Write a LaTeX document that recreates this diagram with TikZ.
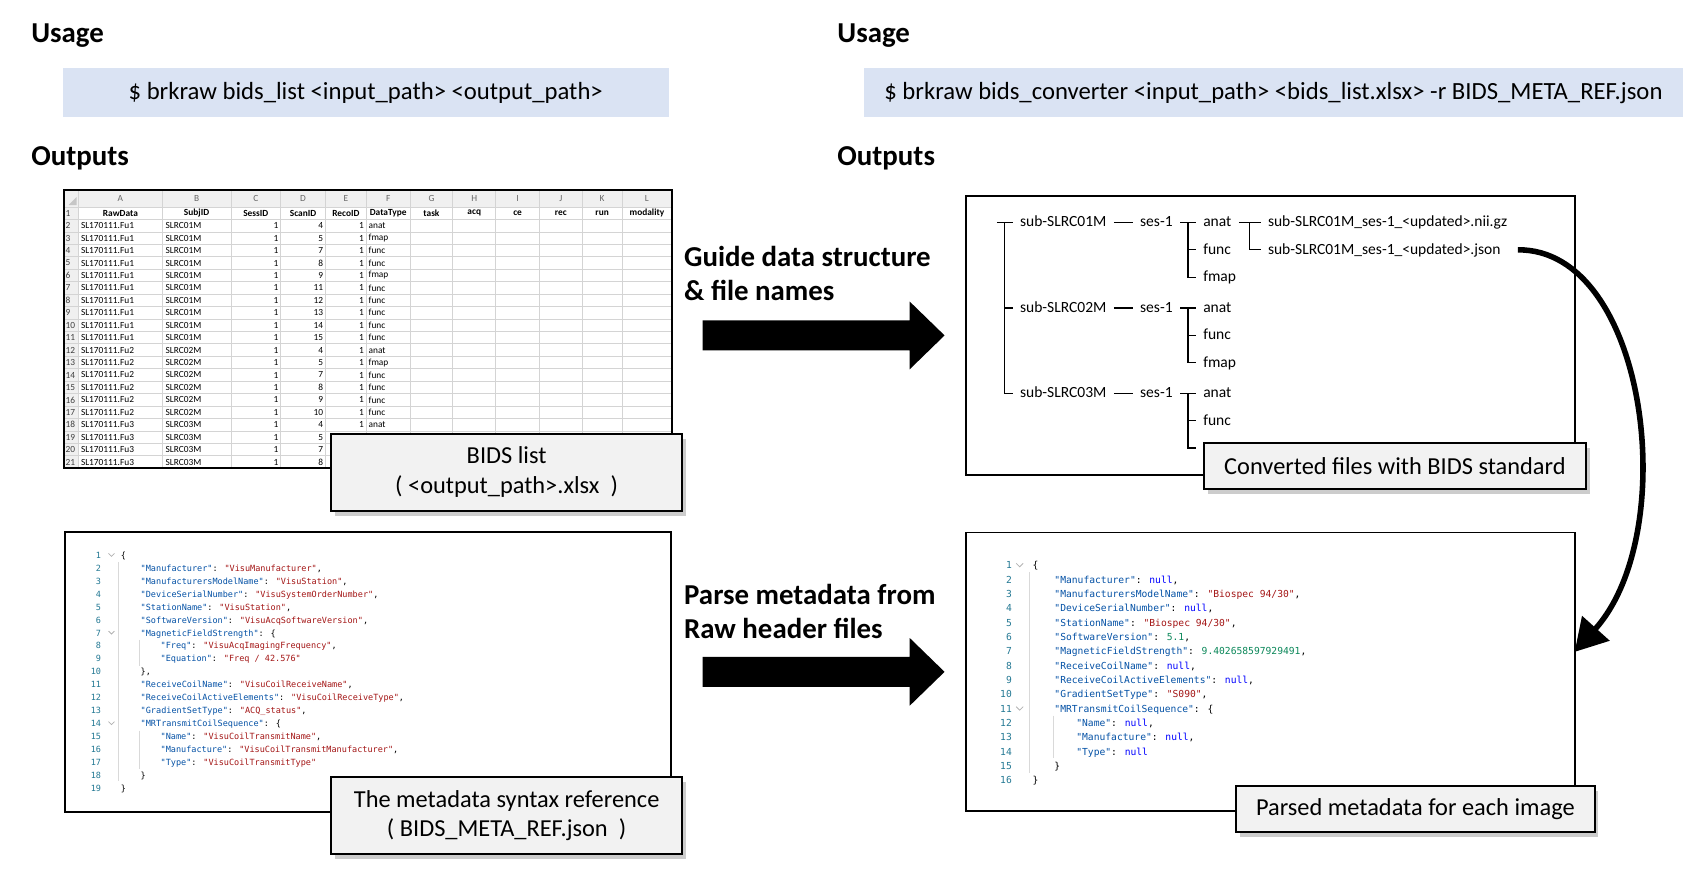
\documentclass[tikz,border=0pt]{standalone}
\usepackage{fontspec}
\setmainfont{Carlito}
\newfontfamily\codefont{DejaVu Sans Mono}
\usetikzlibrary{positioning, arrows.meta, shadows, calc}

\definecolor{usagebg}{HTML}{DAE3F3}
\definecolor{notebg}{HTML}{F2F2F2}
\definecolor{keycol}{HTML}{0451A5}
\definecolor{strcol}{HTML}{A31515}
\definecolor{nullcol}{HTML}{0000FF}
\definecolor{numcol}{HTML}{098658}
\definecolor{linecol}{HTML}{237893}
\definecolor{gridcol}{HTML}{D4D4D4}
\definecolor{cellhead}{HTML}{F0F0F0}

\newcommand{\jkey}[1]{\textcolor{keycol}{#1}}
\newcommand{\jstr}[1]{\textcolor{strcol}{#1}}
\newcommand{\jnull}[1]{\textcolor{nullcol}{#1}}
\newcommand{\jnum}[1]{\textcolor{numcol}{#1}}

\begin{document}
\begin{tikzpicture}[x=0.5pt, y=-0.5pt,
    heading/.style={font=\fontsize{14.5}{17}\selectfont\bfseries, inner sep=0pt, anchor=base west},
    usagebar/.style={fill=usagebg, inner sep=0pt, minimum height=25pt, font=\fontsize{12.4}{15}\selectfont},
    panel/.style={draw, line width=1pt},
    notebox/.style={draw, line width=1pt, fill=notebg, inner sep=0pt, align=center,
      font=\fontsize{12.25}{15}\selectfont,
      drop shadow={shadow xshift=2pt, shadow yshift=-2.5pt, fill=black!40, opacity=.5}},
    cell/.style={font=\fontsize{4.7}{5}\selectfont, inner sep=0pt},
    cellbold/.style={cell, font=\fontsize{4.7}{5}\selectfont\bfseries},
    grid line/.style={gridcol, line width=.4pt},
    treenode/.style={font=\fontsize{7.8}{9}\selectfont, inner sep=3.5pt, text height=6pt, text depth=1.5pt, anchor=west},
    branch/.style={line width=.65pt},
    lineno/.style={text=linecol, inner sep=0pt, anchor=base east},
    codeline/.style={inner sep=0pt, anchor=base west},
    guide/.style={gray!30, line width=.4pt},
    fold/.style={gray!60, line width=.4pt},
  ]
  \useasboundingbox (0,0) rectangle (1710,889);

  % usage and outputs
  \node[heading] (use1) at (31,43) {Usage};
  \node[heading] (use2) at (841,43) {Usage};
  \node[usagebar, minimum width=304.5pt] (cmd1) at (367.5,93) {\$ brkraw bids\_list <input\_path> <output\_path>};
  \node[usagebar, minimum width=411.5pt] (cmd2) at (1279.5,93) {\$ brkraw bids\_converter <input\_path> <bids\_list.xlsx> -r BIDS\_META\_REF.json};
  \node[heading] (out1) at (31,166) {Outputs};
  \node[heading] (out2) at (841,166) {Outputs};

  % spreadsheet
  \fill[cellhead] (64,191) rectangle (675,208);
  \fill[cellhead] (64,208) rectangle (79,470.5);
  \fill[gray!45] (77,198) -- (77,206) -- (69,206) -- cycle;
  \foreach \x in {79,163,232,282,327,368,412,455,498,542,585,625}
    \draw[grid line] (\x,191) -- (\x,470.5);
  \foreach \r in {0,...,20}
    \draw[grid line] (64,{208+\r*12.5}) -- (675,{208+\r*12.5});
  \draw[line width=1pt] (64,191) rectangle (675,470.5);
  \foreach \l/\h/\x in {A/RawData/121, B/SubjID/197.5, C/SessID/257, D/ScanID/304.5,
      E/RecoID/347.5, F/DataType/390, G/task/433.5, H/acq/476.5, I/ce/520,
      J/rec/563.5, K/run/605, L/modality/650} {
    \node[cell, text=black!60] (col\l) at (\x,199.5) {\l};
    \node[cellbold] (head\l) at (\x,214.25) {\h};
  }
  \foreach \r in {1,...,21}
    \node[cell, anchor=west, text=black!75] (n\r) at (65.5,{208+(\r-0.5)*12.5}) {\r};
  \foreach \r/\fu/\sj/\sc in {2/1/1/4, 3/1/1/5, 4/1/1/7, 5/1/1/8, 6/1/1/9, 7/1/1/11,
      8/1/1/12, 9/1/1/13, 10/1/1/14, 11/1/1/15, 12/2/2/4, 13/2/2/5, 14/2/2/7,
      15/2/2/8, 16/2/2/9, 17/2/2/10, 18/3/3/4, 19/3/3/5, 20/3/3/7, 21/3/3/8} {
    \node[cell, anchor=west] (a\r) at (81,{208+(\r-0.5)*12.5}) {SL170111.Fu\fu};
    \node[cell, anchor=west] (b\r) at (166,{208+(\r-0.5)*12.5}) {SLRC0\sj M};
    \node[cell, anchor=east] (c\r) at (280,{208+(\r-0.5)*12.5}) {1};
    \node[cell, anchor=east] (d\r) at (325,{208+(\r-0.5)*12.5}) {\sc};
  }
  \foreach \r/\dt in {2/anat, 3/fmap, 4/func, 5/func, 6/fmap, 7/func, 8/func, 9/func,
      10/func, 11/func, 12/anat, 13/fmap, 14/func, 15/func, 16/func, 17/func, 18/anat} {
    \node[cell, anchor=east] (e\r) at (366,{208+(\r-0.5)*12.5}) {1};
    \node[cell, anchor=west] (f\r) at (370,{208+(\r-0.5)*12.5}) {\dt};
  }

  % metadata syntax reference
  \draw[panel] (65,534) rectangle (674,816);
  \draw[guide] (119,565) -- (119,785);
  \draw[guide] (140,643) -- (140,669);
  \draw[guide] (140,734) -- (140,773);
  \foreach \k in {1,7,14}
    \draw[fold] (109,{556+(\k-1)*13}) -- ++(3,3) -- ++(3,-3);
  \begin{scope}[font=\codefont\fontsize{4.28}{5}\selectfont]
    \foreach \k/\d/\t in {
        1/0/{\{},
        2/1/{\jkey{"Manufacturer"}: \jstr{"VisuManufacturer"},},
        3/1/{\jkey{"ManufacturersModelName"}: \jstr{"VisuStation"},},
        4/1/{\jkey{"DeviceSerialNumber"}: \jstr{"VisuSystemOrderNumber"},},
        5/1/{\jkey{"StationName"}: \jstr{"VisuStation"},},
        6/1/{\jkey{"SoftwareVersion"}: \jstr{"VisuAcqSoftwareVersion"},},
        7/1/{\jkey{"MagneticFieldStrength"}: \{},
        8/2/{\jkey{"Freq"}: \jstr{"VisuAcqImagingFrequency"},},
        9/2/{\jkey{"Equation"}: \jstr{"Freq / 42.576"}},
        10/1/{\},},
        11/1/{\jkey{"ReceiveCoilName"}: \jstr{"VisuCoilReceiveName"},},
        12/1/{\jkey{"ReceiveCoilActiveElements"}: \jstr{"VisuCoilReceiveType"},},
        13/1/{\jkey{"GradientSetType"}: \jstr{"ACQ\_status"},},
        14/1/{\jkey{"MRTransmitCoilSequence"}: \{},
        15/2/{\jkey{"Name"}: \jstr{"VisuCoilTransmitName"},},
        16/2/{\jkey{"Manufacture"}: \jstr{"VisuCoilTransmitManufacturer"},},
        17/2/{\jkey{"Type"}: \jstr{"VisuCoilTransmitType"}},
        18/1/{\}},
        19/0/{\}}} {
      \node[lineno] (ln\k) at (102,{561+(\k-1)*13}) {\k};
      \node[codeline] (lt\k) at ({121+20*\d},{561+(\k-1)*13}) {\t};
    }
  \end{scope}

  % guide arrows
  \foreach \y in {337,675}
    \fill (706,\y-15) -- (914,\y-15) -- (914,\y-34) -- (949,\y) -- (914,\y+34)
      -- (914,\y+15) -- (706,\y+15) -- cycle;
  \node[heading] (guide1) at (687,268) {Guide data structure};
  \node[heading] (guide2) at (687,302) {\& file names};
  \node[heading] (parse1) at (687,607) {Parse metadata from};
  \node[heading] (parse2) at (687,641) {Raw header files};

  % converted file tree
  \draw[panel] (971,197) rectangle (1582,477);
  \node[treenode] (s1) at (1017.5,223.5) {sub-SLRC01M};
  \node[treenode] (s2) at (1017.5,309.5) {sub-SLRC02M};
  \node[treenode] (s3) at (1017.5,395) {sub-SLRC03M};
  \foreach \i in {1,2,3} {
    \node[treenode, right=9.5pt of s\i] (e\i) {ses-1};
    \node[treenode, right=8pt of e\i] (d\i1) {anat};
    \node[treenode] (d\i2) at ([yshift=-13.75pt]d\i1.west) {func};
    \coordinate (b\i) at ($(e\i.east)!.5!(d\i1.west)$);
    \draw[branch] (s\i.east) -- (e\i.west);
    \draw[branch] (e\i.east) -- (d\i1.west);
    \draw[branch] (b\i |- d\i2.west) -- (d\i2.west);
  }
  \node[treenode] (d13) at ([yshift=-13.75pt]d12.west) {fmap};
  \node[treenode] (d23) at ([yshift=-13.75pt]d22.west) {fmap};
  \coordinate (d33) at ([yshift=-13.75pt]d32.west);
  \draw[branch] (b1) |- (d13.west);
  \draw[branch] (b2) |- (d23.west);
  \draw[branch] (b3) |- (d33);
  \coordinate (root) at ([xshift=-4pt]s1.west);
  \draw[branch] ([xshift=-4pt]root) -- (s1.west);
  \draw[branch] (root) |- (s3.west);
  \draw[branch] (root |- s2.west) -- (s2.west);
  \node[treenode, right=11pt of d11] (f11) {sub-SLRC01M\_ses-1\_<updated>.nii.gz};
  \node[treenode] (f12) at ([yshift=-13.75pt]f11.west) {sub-SLRC01M\_ses-1\_<updated>.json};
  \coordinate (b4) at ($(d11.east)!.5!(f11.west)$);
  \draw[branch] (d11.east) -- (f11.west);
  \draw[branch] (b4) |- (f12.west);

  % parsed metadata
  \draw[panel] (971,535) rectangle (1582,815);
  \draw[guide] (1034,575) -- (1034,777);
  \draw[guide] (1058,719) -- (1058,762);
  \foreach \k in {1,11}
    \draw[fold] (1021,{566+(\k-1)*14.4}) -- ++(3.5,3.5) -- ++(3.5,-3.5);
  \begin{scope}[font=\codefont\fontsize{4.85}{6}\selectfont]
    \foreach \k/\d/\t in {
        1/0/{\{},
        2/1/{\jkey{"Manufacturer"}: \jnull{null},},
        3/1/{\jkey{"ManufacturersModelName"}: \jstr{"Biospec 94/30"},},
        4/1/{\jkey{"DeviceSerialNumber"}: \jnull{null},},
        5/1/{\jkey{"StationName"}: \jstr{"Biospec 94/30"},},
        6/1/{\jkey{"SoftwareVersion"}: \jnum{5.1},},
        7/1/{\jkey{"MagneticFieldStrength"}: \jnum{9.402658597929491},},
        8/1/{\jkey{"ReceiveCoilName"}: \jnull{null},},
        9/1/{\jkey{"ReceiveCoilActiveElements"}: \jnull{null},},
        10/1/{\jkey{"GradientSetType"}: \jstr{"S090"},},
        11/1/{\jkey{"MRTransmitCoilSequence"}: \{},
        12/2/{\jkey{"Name"}: \jnull{null},},
        13/2/{\jkey{"Manufacture"}: \jnull{null},},
        14/2/{\jkey{"Type"}: \jnull{null}},
        15/1/{\}},
        16/0/{\}}} {
      \node[lineno] (rn\k) at (1017,{571.5+(\k-1)*14.4}) {\k};
      \node[codeline] (rt\k) at ({1037+22*\d},{571.5+(\k-1)*14.4}) {\t};
    }
  \end{scope}

  % notes
  \node[notebox, minimum width=176pt, minimum height=38.5pt] (listnote) at (509,474.5)
    {BIDS list\\( <output\_path>.xlsx~~)};
  \node[notebox, minimum width=176pt, minimum height=38.5pt] (refnote) at (509,819.5)
    {The metadata syntax reference\\( BIDS\_META\_REF.json~~)};
  \node[notebox, minimum width=191.5pt, minimum height=23pt] (convnote) at (1401.5,468)
    {Converted files with BIDS standard};
  \node[notebox, minimum width=180pt, minimum height=23pt] (parsenote) at (1422,813)
    {Parsed metadata for each image};

  % json feeds the parsed metadata
  \coordinate (jin) at (1582,655);
  \draw[line width=2.8pt, -{Triangle[length=16pt, width=18pt]}]
    ([xshift=5pt]f12.east) .. controls (1655,250) and (1690,535) .. (jin);
\end{tikzpicture}
\end{document}
